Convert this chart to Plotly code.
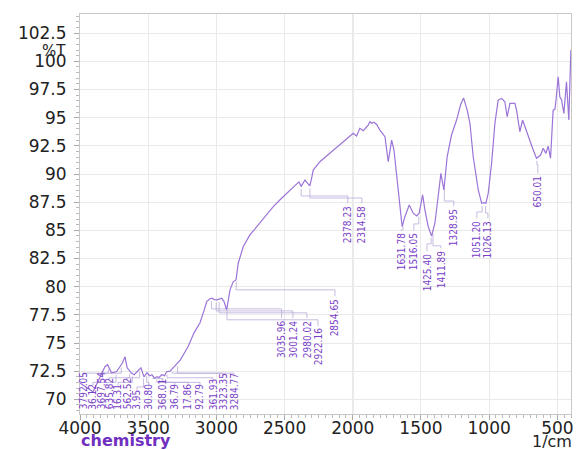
import numpy as np
import plotly.graph_objects as go

# ---- spectrum data (wavenumber 1/cm, %T) ----
wavenumber = [4000, 3950, 3905, 3880, 3850, 3817, 3798, 3769, 3733, 3711, 3690, 3670, 3654,
              3625, 3603, 3582, 3553, 3531, 3509, 3490, 3473, 3455, 3437, 3420, 3401, 3380,
              3365, 3340, 3315, 3290, 3264, 3240, 3208, 3164, 3120, 3090, 3071, 3050, 3035,
              3015, 2998, 2980, 2961, 2944, 2925, 2900, 2876, 2856, 2840, 2803, 2754, 2693,
              2632, 2583, 2522, 2461, 2412, 2395, 2378, 2351, 2340, 2315, 2302, 2290, 2241,
              2168, 2094, 2033, 1997, 1972, 1948, 1923, 1887, 1874, 1862, 1845, 1825, 1801,
              1764, 1740, 1715, 1698, 1679, 1660, 1638, 1618, 1586, 1557, 1532, 1513, 1488,
              1471, 1447, 1422, 1398, 1374, 1354, 1332, 1308, 1276, 1239, 1210, 1188, 1161,
              1141, 1117, 1080, 1055, 1040, 1024, 1007, 982, 958, 934, 909, 885, 868, 848,
              811, 799, 775, 755, 714, 677, 653, 623, 604, 584, 567, 550, 531, 518, 511, 494,
              482, 469, 452, 433, 416, 401]
transmittance = [71.45, 71.0, 70.67, 71.3, 72.0, 72.9, 73.07, 72.36, 72.45, 72.8, 73.2, 73.78, 72.8,
                 72.36, 72.18, 72.45, 72.8, 72.0, 72.36, 72.1, 72.18, 71.9, 72.0, 71.95, 72.18, 72.1,
                 72.45, 72.5, 72.8, 73.1, 73.5, 74.0, 74.66, 75.9, 76.8, 77.9, 78.68, 78.9, 78.98,
                 78.85, 78.83, 78.9, 78.98, 78.68, 77.94, 79.72, 80.45, 80.6, 82.08, 83.56, 84.6, 85.48,
                 86.37, 87.1, 87.85, 88.58, 89.18, 89.3, 88.9, 89.47, 89.3, 88.94, 89.62, 90.35, 91.09,
                 91.84, 92.57, 93.16, 93.61, 93.37, 94.05, 93.84, 94.34, 94.64, 94.5, 94.6, 94.4, 93.9,
                 93.31, 91.09, 93.0, 92.13, 90.06, 88.29, 85.33, 86.21, 87.25, 86.52, 86.28, 86.52, 88.14,
                 86.81, 85.33, 84.5, 85.63, 88.0, 90.06, 88.58, 91.53, 93.46, 94.79, 96.12, 96.75, 95.67,
                 94.5, 91.53, 88.58, 87.4, 87.45, 87.4, 88.29, 90.95, 94.5, 96.56, 96.71, 96.41, 95.08, 96.27,
                 96.27, 95.67, 93.75, 94.79, 93.31, 92.13, 91.39, 91.68, 92.28, 91.83, 92.48, 91.39, 95.67,
                 95.74, 96.41, 98.63, 96.85, 96.56, 95.38, 98.18, 94.79, 101.0]

# ---- peak labels ----
peak_wn = [3792.05, 3736.12, 3697.54, 3635.82, 3616.31, 3562.52, 3533.95, 3510.80, 3468.01,
           3436.79, 3417.86, 3392.79, 3361.93, 3323.35, 3284.77,
           3035.96, 3001.24, 2980.02, 2922.16, 2854.65, 2378.23, 2314.58,
           1631.78, 1516.05, 1425.40, 1411.89, 1328.95, 1051.20, 1026.13, 650.01]
peak_text = ["3792.05", "36.12", "3697.54", "635.82", "16.31", "562.52", "3.95", "30.80", "368.01",
             "36.79", "17.86", "92.79", "361.93", "3323.35", "3284.77",
             "3035.96", "3001.24", "2980.02", "2922.16", "2854.65", "2378.23", "2314.58",
             "1631.78", "1516.05", "1425.40", "1411.89", "1328.95", "1051.20", "1026.13", "650.01"]

# label placement (layout): x position, anchor level, anchor side, elbow level
label_x = [3978, 3905, 3846, 3787, 3721, 3655, 3582, 3494, 3399, 3304, 3208, 3120, 3025, 2952, 2871,
           2522, 2439, 2336, 2255, 2131, 2036, 1933,
           1647, 1552, 1456, 1354, 1259, 1090, 1009, 643]
label_y = [68.99] * 15 + [77.06, 77.06, 77.06, 76.35, 79.0, 87.25, 87.25,
                          84.86, 84.86, 83.0, 83.27, 86.99, 85.92, 85.92, 89.9]
label_side = ["bottom"] * 15 + ["top"] * 15
elbow_y = [None] * 15 + [78.03, 77.85, 77.68, 77.06, 79.72, 88.05, 87.87,
                         85.04, 85.57, 83.8, 83.62, 87.6, 86.63, 86.54, 90.8]

PX_PER_T = 11.28
CHAR_PX = 4.6

LINE_COLOR = "#9b74d8"
TEXT_COLOR = "#7a3fc8"
LEADER_COLOR = "#b9a9d9"

wn_arr = np.array(wavenumber)[::-1]
t_arr = np.array(transmittance)[::-1]

fig = go.Figure()

# leader lines
lx, ly = [], []
for i, w in enumerate(peak_wn):
    t_peak = float(np.interp(w, wn_arr, t_arr))
    if label_side[i] == "bottom":
        top = label_y[i] + (len(peak_text[i]) * CHAR_PX + 2) / PX_PER_T
        elb = top + 0.3
    else:
        top = label_y[i] + 0.15
        elb = elbow_y[i]
    start = t_peak - 0.25
    if elb > start:
        elb = start
    lx += [w, w, label_x[i], label_x[i], None]
    ly += [start, elb, elb, top, None]

fig.add_trace(go.Scatter(x=lx, y=ly, mode="lines",
                         line=dict(color=LEADER_COLOR, width=0.8),
                         hoverinfo="skip", showlegend=False))

fig.add_trace(go.Scatter(x=wavenumber, y=transmittance, mode="lines",
                         line=dict(color=LINE_COLOR, width=1.2),
                         showlegend=False))

annotations = []
for i in range(len(peak_wn)):
    annotations.append(dict(
        x=label_x[i], y=label_y[i], xref="x", yref="y",
        text=peak_text[i], showarrow=False, textangle=-90,
        xanchor="center", yanchor=label_side[i], borderpad=0,
        font=dict(family="Liberation Sans Narrow, DejaVu Sans Condensed, Arial Narrow, sans-serif",
                  size=10, color=TEXT_COLOR)))

annotations.append(dict(x=-0.026, y=100.9, xref="paper", yref="y", text="%T",
                        showarrow=False, xanchor="right", yanchor="middle", borderpad=0,
                        font=dict(family="DejaVu Sans", size=15, color="#222")))
annotations.append(dict(x=0.0, y=-0.066, xref="paper", yref="paper", text="<b>chemistry</b>",
                        showarrow=False, xanchor="left", yanchor="middle", borderpad=0,
                        font=dict(family="DejaVu Sans", size=16, color="#7030c0")))
annotations.append(dict(x=1.004, y=-0.068, xref="paper", yref="paper", text="1/cm",
                        showarrow=False, xanchor="right", yanchor="middle", borderpad=0,
                        font=dict(family="DejaVu Sans", size=16, color="#222")))

y_ticks = [70, 72.5, 75, 77.5, 80, 82.5, 85, 87.5, 90, 92.5, 95, 97.5, 100, 102.5]
y_ticktext = [("%g" % v) for v in y_ticks]
x_ticks = [4000, 3500, 3000, 2500, 2000, 1500, 1000, 500]

fig.update_layout(
    width=577, height=450,
    margin=dict(l=80, r=6, t=14, b=36, autoexpand=False),
    paper_bgcolor="white", plot_bgcolor="white",
    annotations=annotations,
    shapes=[dict(type="line", xref="x", yref="paper", x0=2000, x1=2000, y0=0, y1=1,
                 line=dict(color="#b4b4b4", width=1), layer="below")],
    xaxis=dict(range=[4000, 400], tickmode="array", tickvals=x_ticks,
               ticks="outside", ticklen=5, tickcolor="#aaa",
               showgrid=True, gridcolor="#e9e9e9", gridwidth=1,
               showline=True, linecolor="#c8c8c8", mirror=True, zeroline=False,
               automargin=False, ticklabelstandoff=-6,
               tickfont=dict(family="DejaVu Sans", size=17, color="#222"),
               minor=dict(dtick=50, tick0=0, ticks="outside", ticklen=3, tickcolor="#bbb", showgrid=False)),
    yaxis=dict(range=[68.7, 104.2], tickmode="array", tickvals=y_ticks, ticktext=y_ticktext,
               ticks="outside", ticklen=5, tickcolor="#aaa",
               showgrid=True, gridcolor="#e9e9e9", gridwidth=1,
               showline=True, linecolor="#c8c8c8", mirror=True, zeroline=False,
               ticklabelstandoff=4, automargin=False,
               tickfont=dict(family="DejaVu Sans", size=17, color="#222"),
               minor=dict(dtick=0.5, tick0=0, ticks="outside", ticklen=3, tickcolor="#bbb", showgrid=False)),
)

fig.write_html("out.html", config={"displayModeBar": False},
               post_script="document.body.style.margin='0';document.body.style.overflow='hidden';")
